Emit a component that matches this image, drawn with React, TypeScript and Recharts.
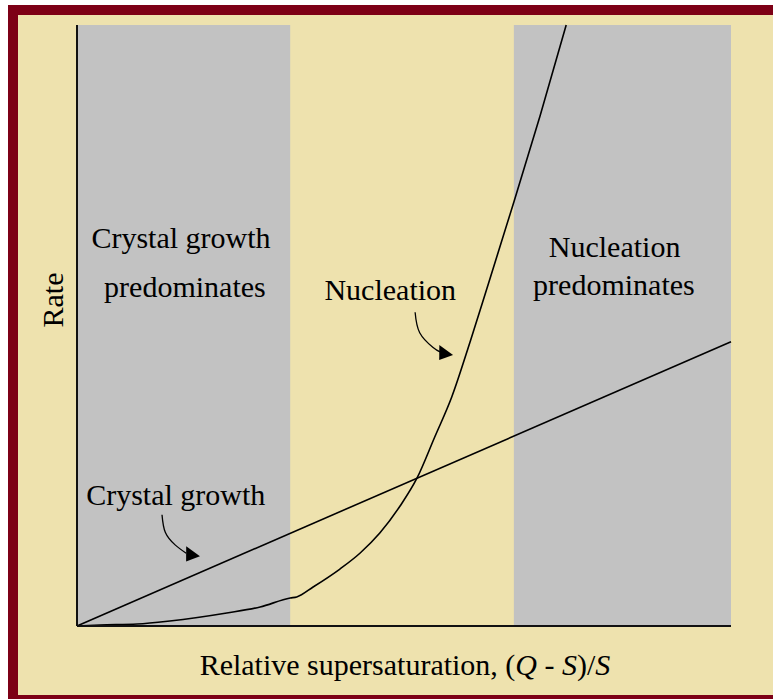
import React from 'react';
import {
  ComposedChart,
  Line,
  XAxis,
  YAxis,
  ReferenceArea,
  ReferenceDot,
} from 'recharts';

// Rate vs relative supersaturation: crystal growth (linear) and nucleation (steep)

const SERIF = '"Liberation Serif", "Times New Roman", serif';

// crystal growth line
const growthX = [0, 100];
const growthY = [0, 47.3];

// nucleation curve
const nucleationX = [0, 3.5, 9.2, 14.2, 22.9, 28.0, 32.6, 33.6, 36.1, 40.2, 43.3, 46.3, 49.4, 52.0, 54.7, 57.3, 60.1, 62.7, 66.8, 70.8, 74.8];
const nucleationY = [0, 0.17, 0.33, 0.83, 2.16, 3.16, 4.66, 4.83, 6.49, 9.48, 12.15, 15.47, 19.97, 24.63, 31.45, 38.1, 47.25, 56.24, 70.55, 84.86, 100];

// gray shaded regions
const regionStart = [0, 66.8];
const regionEnd = [32.6, 100];

// text annotations (x centre, y baseline)
const labelText = ['Crystal growth', 'predominates', 'Nucleation', 'predominates', 'Nucleation', 'Crystal growth'];
const labelX = [15.9, 16.5, 82.2, 82.1, 47.9, 15.1];
const labelY = [62.9, 54.7, 61.4, 55.1, 54.2, 20.1];

// curved arrows: shaft points and tip
const growthArrowX = [13.0, 13.5, 15.0, 16.7];
const growthArrowY = [18.5, 15.6, 13.5, 12.1];
const growthArrowTip = { x: 18.8, y: 11.6 };
const nucleationArrowX = [51.7, 52.4, 54.4, 55.5];
const nucleationArrowY = [52.2, 48.8, 46.4, 45.6];
const nucleationArrowTip = { x: 57.5, y: 45.1 };

const zip = (xs: number[], ys: number[]) => xs.map((x, i) => ({ x, y: ys[i] }));

const growth = zip(growthX, growthY);
const nucleation = zip(nucleationX, nucleationY);
const growthArrow = zip(growthArrowX, growthArrowY);
const nucleationArrow = zip(nucleationArrowX, nucleationArrowY);

const ArrowHead = (props: any) => {
  const { cx, cy } = props;
  return (
    <path
      d={`M${cx},${cy} L${cx - 15},${cy - 8} L${cx - 13},${cy + 7} Z`}
      transform={`rotate(8, ${cx}, ${cy})`}
      fill="#000"
    />
  );
};

const makeLabel = (text: string) => (props: any) => (
  <text
    x={props.cx}
    y={props.cy}
    textAnchor="middle"
    fontFamily={SERIF}
    fontSize={30}
    fill="#000"
  >
    {text}
  </text>
);

const YLabel = (props: any) => {
  const { viewBox } = props;
  const x = viewBox.x + 16;
  const y = viewBox.y + 275;
  return (
    <text
      x={x}
      y={y}
      textAnchor="middle"
      transform={`rotate(-90, ${x}, ${y})`}
      fontFamily={SERIF}
      fontSize={30}
      fill="#000"
    >
      Rate
    </text>
  );
};

const XLabel = (props: any) => {
  const { viewBox } = props;
  const x = viewBox.x + viewBox.width / 2 + 1;
  const y = viewBox.y + 49;
  return (
    <text x={x} y={y} textAnchor="middle" fontFamily={SERIF} fontSize={30} fill="#000">
      Relative supersaturation, (<tspan fontStyle="italic">Q</tspan> - <tspan fontStyle="italic">S</tspan>)/<tspan fontStyle="italic">S</tspan>
    </text>
  );
};

export default function App() {
  return (
    <div style={{ position: 'absolute', left: 0, top: 0, width: 773, height: 699, overflow: 'hidden' }}>
      <div
        style={{
          position: 'absolute',
          left: 8,
          top: 5,
          width: 790,
          height: 700,
          boxSizing: 'border-box',
          border: '10px solid #7d0016',
          background: '#eee2ae',
        }}
      />
      <div style={{ position: 'absolute', left: 0, top: 0 }}>
        <ComposedChart width={773} height={699} margin={{ top: 25, right: 42, left: 47, bottom: 43 }}>
          <XAxis
            type="number"
            dataKey="x"
            domain={[0, 100]}
            height={30}
            tick={false}
            tickLine={false}
            axisLine={{ stroke: '#111', strokeWidth: 2 }}
            label={<XLabel />}
          />
          <YAxis
            type="number"
            dataKey="y"
            domain={[0, 100]}
            width={30}
            tick={false}
            tickLine={false}
            axisLine={{ stroke: '#111', strokeWidth: 2 }}
            label={<YLabel />}
          />
          {regionStart.map((x1, i) => (
            <ReferenceArea
              key={i}
              x1={x1}
              x2={regionEnd[i]}
              y1={0}
              y2={100}
              fill="#c2c2c2"
              fillOpacity={1}
              stroke="none"
            />
          ))}
          <Line data={growth} dataKey="y" type="linear" stroke="#000" strokeWidth={1.6} dot={false} isAnimationActive={false} />
          <Line data={nucleation} dataKey="y" type="monotone" stroke="#000" strokeWidth={1.6} dot={false} isAnimationActive={false} />
          <Line data={growthArrow} dataKey="y" type="natural" stroke="#000" strokeWidth={1.3} dot={false} isAnimationActive={false} />
          <Line data={nucleationArrow} dataKey="y" type="natural" stroke="#000" strokeWidth={1.3} dot={false} isAnimationActive={false} />
          <ReferenceDot x={growthArrowTip.x} y={growthArrowTip.y} shape={ArrowHead} />
          <ReferenceDot x={nucleationArrowTip.x} y={nucleationArrowTip.y} shape={ArrowHead} />
          {labelText.map((t, i) => (
            <ReferenceDot key={`l${i}`} x={labelX[i]} y={labelY[i]} shape={makeLabel(t)} />
          ))}
        </ComposedChart>
      </div>
    </div>
  );
}
